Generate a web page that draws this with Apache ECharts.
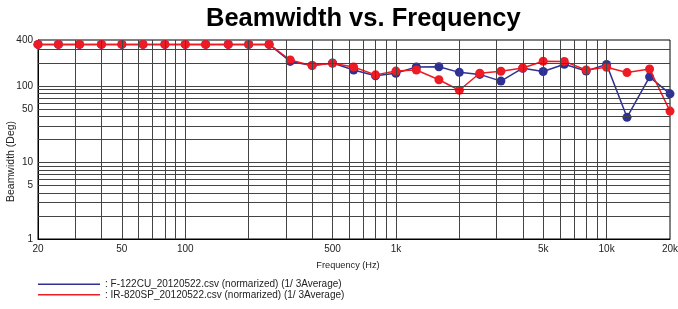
<!DOCTYPE html>
<html>
<head>
<meta charset="utf-8">
<script src="https://cdn.jsdelivr.net/npm/echarts@6/dist/echarts.min.js"></script>
<style>html,body{margin:0;padding:0;background:#fff;}#c{width:678px;height:309px;}</style>
</head>
<body>
<div id="c"></div>
<script>
// Frequencies (Hz), 1/3 octave bands
const freqs = [20,25,31.5,40,50,63,80,100,125,160,200,250,315,400,500,630,800,1000,1250,1600,2000,2500,3150,4000,5000,6300,8000,10000,12500,16000,20000];
// Beamwidth (deg)
const f122cu = [350,350,350,350,350,350,350,350,350,350,350,350,210,186,200,162,136,147,178,179,151,142,116,171,155,193,157,192,39,132,79];
const ir820sp = [350,350,350,350,350,350,350,350,350,350,350,350,219,185,199,177,140,157,162,121,88,147,156,172,211,210,162,176,150,167,47];
const seriesNames = [': F-122CU_20120522.csv (normarized) (1/ 3Average)', ': IR-820SP_20120522.csv (normarized) (1/ 3Average)'];
// tick labels
const xTickLabels = [20,50,100,500,1000,5000,10000,20000];
const yTickLabels = [1,5,10,50,100,400];
// grid lines
const xGridLines = [30,40,50,60,70,80,90,100,200,300,400,500,600,700,800,900,1000,2000,3000,4000,5000,6000,7000,8000,9000,10000];
const yGridLines = [2,3,4,5,6,7,8,9,10,20,30,40,50,60,70,80,90,100,200,300];

const FONT = 'Liberation Sans, Arial, sans-serif';
const chart = echarts.init(document.getElementById('c'), null, {renderer: 'canvas'});
const fmtX = v => v >= 1000 ? (v/1000) + 'k' : String(v);

chart.setOption({
  animation: false,
  backgroundColor: '#fff',
  textStyle: {fontFamily: FONT},
  title: {
    text: 'Beamwidth vs. Frequency',
    left: 201, top: 1,
    textStyle: {fontSize: 25.5, fontWeight: 'bold', color: '#000', fontFamily: FONT}
  },
  grid: {left: 38, right: 8, top: 40, bottom: 70, show: true, borderColor: '#000', borderWidth: 1, containLabel: false, outerBoundsMode: 'none'},
  legend: {
    data: seriesNames,
    orient: 'vertical',
    left: 38, top: 279,
    itemWidth: 62, itemHeight: 1.5, itemGap: 0,
    icon: 'rect',
    padding: 0,
    textStyle: {fontSize: 10, color: '#222', fontFamily: FONT, lineHeight: 10.5}
  },
  xAxis: {
    type: 'log', logBase: 10, min: 20, max: 20000,
    name: 'Frequency (Hz)', nameLocation: 'middle', nameGap: 22, nameMoveOverlap: false,
    nameTextStyle: {fontSize: 9.2, color: '#222', fontFamily: FONT, padding: [0, 12, 0, 0]},
    axisLine: {show: true, lineStyle: {color: '#000', width: 1}},
    axisTick: {show: false},
    splitLine: {show: false},
    axisLabel: {customValues: xTickLabels, formatter: fmtX, fontSize: 10, color: '#222', margin: 5, fontFamily: FONT, showMinLabel: true, showMaxLabel: true}
  },
  yAxis: {
    type: 'log', logBase: 10, min: 1, max: 400,
    name: 'Beamwidth (Deg)', nameLocation: 'middle', nameGap: 21, nameMoveOverlap: false,
    nameTextStyle: {fontSize: 10.5, color: '#222', fontFamily: FONT, padding: [0, 44, 0, 0]},
    axisLine: {show: true, lineStyle: {color: '#000', width: 1}},
    axisTick: {show: false},
    splitLine: {show: false},
    axisLabel: {customValues: yTickLabels, fontSize: 10, color: '#222', margin: 5, fontFamily: FONT, showMinLabel: true, showMaxLabel: true}
  },
  series: [
    {
      name: 'grid', type: 'line', data: [], z: 1, silent: true,
      markLine: {
        silent: true, symbol: ['none','none'], animation: false,
        label: {show: false},
        lineStyle: {color: '#444', width: 1, type: 'solid'},
        emphasis: {disabled: true},
        data: xGridLines.map(v => ({xAxis: v})).concat(yGridLines.map(v => ({yAxis: v})))
      }
    },
    {
      name: seriesNames[0], type: 'line', z: 3,
      data: freqs.map((f, i) => [f, f122cu[i]]),
      symbol: 'circle', symbolSize: 9,
      itemStyle: {color: '#2e3192'},
      lineStyle: {color: '#2e3192', width: 1.5}
    },
    {
      name: seriesNames[1], type: 'line', z: 4,
      data: freqs.map((f, i) => [f, ir820sp[i]]),
      symbol: 'circle', symbolSize: 9,
      itemStyle: {color: '#ed1c24'},
      lineStyle: {color: '#ed1c24', width: 1.5}
    }
  ]
});
</script>
</body>
</html>
